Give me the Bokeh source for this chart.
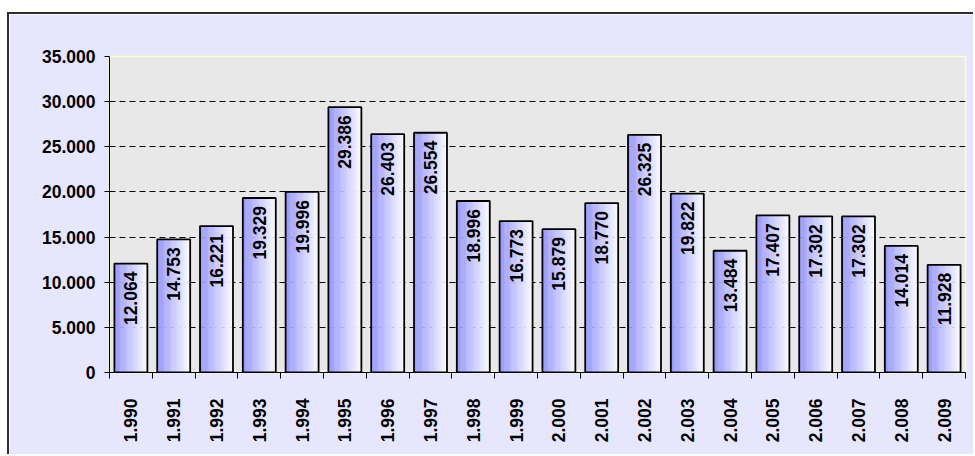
from math import pi
from bokeh.plotting import figure
from bokeh.models import Range1d, FixedTicker, ColumnDataSource
from bokeh.core.properties import value
from bokeh.embed import file_html
from bokeh.resources import INLINE

# ---- data ----
years = ["1.990", "1.991", "1.992", "1.993", "1.994", "1.995", "1.996", "1.997", "1.998", "1.999",
         "2.000", "2.001", "2.002", "2.003", "2.004", "2.005", "2.006", "2.007", "2.008", "2.009"]
values = [12064, 14753, 16221, 19329, 19996, 29386, 26403, 26554, 18996, 16773,
          15879, 18770, 26325, 19822, 13484, 17407, 17302, 17302, 14014, 11928]
value_labels = ["12.064", "14.753", "16.221", "19.329", "19.996", "29.386", "26.403", "26.554", "18.996", "16.773",
                "15.879", "18.770", "26.325", "19.822", "13.484", "17.407", "17.302", "17.302", "14.014", "11.928"]
y_ticks = [0, 5000, 10000, 15000, 20000, 25000, 30000, 35000]
y_tick_labels = ["0", "5.000", "10.000", "15.000", "20.000", "25.000", "30.000", "35.000"]

n = len(years)
xs = [i + 0.5 for i in range(n)]
bar_w = 0.77

FONT = "Liberation Sans"
FS = "17.5px"

p = figure(width=966, height=442, x_range=Range1d(0, n), y_range=Range1d(0, 35000),
           output_backend="svg", toolbar_location=None,
           min_border_left=100, min_border_right=10, min_border_top=42, min_border_bottom=84,
           border_fill_color="#E6E6FF", background_fill_color="#E8E8E8",
           outline_line_color="#FFFFCC", outline_line_width=1.5,
           margin=(12, 0, 0, 7),
           styles={"border-top": "2px solid #2E2E2E", "border-left": "2px solid #2E2E2E"})

# gradient bars built from thin strips
N = 28
sx, stop, scol, sw = [], [], [], []
c0 = (148, 148, 255)
c1 = (253, 253, 255)
for k in range(N):
    t = (k + 0.5) / N
    col = "#%02x%02x%02x" % tuple(int(round(a + (b - a) * t)) for a, b in zip(c0, c1))
    off = -bar_w / 2 + (k + 0.5) * bar_w / N
    for x, v in zip(xs, values):
        sx.append(x + off)
        stop.append(v)
        scol.append(col)
        sw.append(bar_w / N * 1.25)
strips = ColumnDataSource(dict(x=sx, top=stop, color=scol, w=sw))
p.vbar(x="x", top="top", width="w", bottom=0, source=strips, fill_color="color", line_color=None)

src = ColumnDataSource(dict(x=xs, top=values, label=value_labels))
p.vbar(x="x", top="top", width=bar_w, bottom=0, source=src, fill_color=None,
       line_color="black", line_width=1.8)

p.text(x="x", y="top", text="label", source=src, angle=pi / 2, text_align="right",
       text_baseline="middle", y_offset=8, text_font=value(FONT), text_font_style="bold",
       text_font_size=FS, text_color="black")

# axes
p.xaxis.ticker = FixedTicker(ticks=xs, minor_ticks=list(range(n + 1)))
p.xaxis.major_label_overrides = {x: y for x, y in zip(xs, years)}
p.xaxis.major_label_orientation = pi / 2
p.xaxis.major_tick_line_color = None
p.xaxis.major_tick_out = 0
p.xaxis.major_tick_in = 0
p.xaxis.minor_tick_line_color = "black"
p.xaxis.minor_tick_out = 6
p.xaxis.minor_tick_in = 0
p.xaxis.major_label_standoff = 20
p.xaxis.axis_line_color = "black"

p.yaxis.ticker = FixedTicker(ticks=y_ticks)
p.yaxis.major_label_overrides = {t: l for t, l in zip(y_ticks, y_tick_labels)}
p.yaxis.major_tick_out = 5
p.yaxis.major_tick_in = 0
p.yaxis.minor_tick_line_color = None
p.yaxis.major_label_standoff = 9
p.yaxis.axis_line_color = "black"

for ax in (p.xaxis, p.yaxis):
    ax.major_label_text_font = FONT
    ax.major_label_text_font_style = "bold"
    ax.major_label_text_font_size = FS
    ax.major_label_text_color = "black"

p.xgrid.grid_line_color = None
p.ygrid.ticker = FixedTicker(ticks=y_ticks[1:-1])
p.ygrid.grid_line_color = "black"
p.ygrid.grid_line_dash = "6 4"
p.ygrid.grid_line_width = 1

open("out.html", "w").write(file_html(p, INLINE))
